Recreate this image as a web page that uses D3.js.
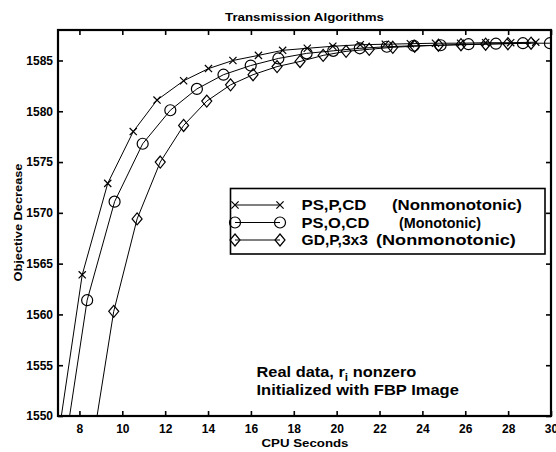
<!DOCTYPE html>
<html><head><meta charset="utf-8">
<script src="https://cdn.jsdelivr.net/npm/d3@7"></script>
<style>
body{margin:0;background:#fff;}
text{font-family:"Liberation Sans",Arial,Helvetica,sans-serif;fill:#000;}
</style></head>
<body><svg id="c" width="556" height="452"></svg>
<script>
// ---- data ----
const xTicks = [8,10,12,14,16,18,20,22,24,26,28,30];
const yTicks = [1550,1555,1560,1565,1570,1575,1580,1585];

const psPcdT = [6.96,8.13,9.32,10.51,11.62,12.86,14.02,15.16,16.35,17.48,18.63,19.82,21.1,22.27,23.44,24.61,25.78,26.95,28.12,29.29];
const psPcdV = [1547.2,1563.9,1572.9,1578.0,1581.1,1583.0,1584.2,1585.0,1585.5,1586.0,1586.2,1586.4,1586.55,1586.6,1586.65,1586.7,1586.7,1586.75,1586.75,1586.8];

const psOcdT = [7.09,8.36,9.64,10.95,12.24,13.48,14.72,15.99,17.28,18.6,19.84,21.08,22.34,23.6,24.85,26.15,27.43,28.69,29.95];
const psOcdV = [1543.7,1561.4,1571.1,1576.8,1580.1,1582.2,1583.6,1584.5,1585.2,1585.7,1585.95,1586.2,1586.35,1586.45,1586.5,1586.6,1586.65,1586.7,1586.7];

const gdPT = [8.52,9.6,10.69,11.77,12.86,13.94,15.05,16.1,17.22,18.29,19.37,20.44,21.52,22.62,23.64,24.75,25.8,26.95,27.99,29.07];
const gdPV = [1546.0,1560.3,1569.4,1575.0,1578.6,1581.0,1582.6,1583.6,1584.4,1584.9,1585.5,1585.9,1586.1,1586.3,1586.4,1586.5,1586.55,1586.6,1586.65,1586.7];

const seriesNames = ["PS,P,CD","PS,O,CD","GD,P,3x3"];
const seriesNotes = ["(Nonmonotonic)","(Monotonic)","(Nonmonotonic)"];
const markerKinds = ["x","o","d"];

// ---- layout ----
const svg = d3.select("#c");
const L=58, R=551, T=30, B=416;
const x = d3.scaleLinear().domain([7,30]).range([L,R]);
const y = d3.scaleLinear().domain([1550,1588]).range([B,T]);

function fit(sel, w){
  const n = sel.node(); const len = n.getComputedTextLength();
  const xx = +sel.attr("data-x"), yy = +sel.attr("data-y");
  sel.attr("x",0).attr("y",0);
  const s = w/len;
  sel.attr("transform",`translate(${xx},${yy}) scale(${s},1)`);
}
function txt(g, str, xx, yy, size, weight, anchor){
  return g.append("text").attr("data-x",xx).attr("data-y",yy).attr("x",xx).attr("y",yy)
    .attr("font-size",size).attr("font-weight",weight||"bold").attr("text-anchor",anchor||"start").text(str);
}

svg.append("defs").append("clipPath").attr("id","clip")
  .append("rect").attr("x",L).attr("y",T).attr("width",R-L).attr("height",B-T);

// title
fit(txt(svg,"Transmission Algorithms",(L+R)/2,21,11,"bold","middle"),159);

// axes
const xa = svg.append("g").attr("transform",`translate(0,${B})`)
  .call(d3.axisBottom(x).tickValues(xTicks).tickSize(-5).tickPadding(8).tickFormat(d3.format("d")));
const xt = svg.append("g").attr("transform",`translate(0,${T})`)
  .call(d3.axisTop(x).tickValues(xTicks).tickSize(-5).tickFormat(""));
const ya = svg.append("g").attr("transform",`translate(${L},0)`)
  .call(d3.axisLeft(y).tickValues(yTicks).tickSize(-5).tickPadding(5).tickFormat(d3.format("d")));
const yr = svg.append("g").attr("transform",`translate(${R},0)`)
  .call(d3.axisRight(y).tickValues(yTicks).tickSize(-5).tickFormat(""));
[xa,xt,ya,yr].forEach(g=>{
  g.select(".domain").remove();
  g.selectAll(".tick line").attr("stroke","#000").attr("stroke-width",1.6);
  g.selectAll(".tick text").attr("font-size",12).attr("font-weight","bold")
    .attr("font-family",'"Liberation Sans",Arial,sans-serif').attr("fill","#000");
});
xa.selectAll(".tick text").attr("dy","0.71em");

// frame
svg.append("rect").attr("x",L).attr("y",T).attr("width",R-L).attr("height",B-T)
  .attr("fill","none").attr("stroke","#000").attr("stroke-width",2.2);

// axis labels
fit(txt(svg,"CPU Seconds",305,446.5,11.5,"bold","middle"),87);
const yl = svg.append("text").attr("font-size",11.5).attr("font-weight","bold").attr("text-anchor","middle")
  .attr("transform","translate(21.5,222.5) rotate(-90)").text("Objective Decrease");
{ const len = yl.node().getComputedTextLength();
  yl.attr("transform",`translate(21.5,222.5) rotate(-90) scale(${118/len},1)`); }

// markers
function marker(g, kind, cx, cy){
  if(kind==="x"){
    const s=3.6;
    g.append("path").attr("d",`M${cx-s},${cy-s}L${cx+s},${cy+s}M${cx-s},${cy+s}L${cx+s},${cy-s}`)
      .attr("stroke","#000").attr("stroke-width",1.2).attr("fill","none");
  } else if(kind==="o"){
    g.append("circle").attr("cx",cx).attr("cy",cy).attr("r",5.5)
      .attr("stroke","#000").attr("stroke-width",1.2).attr("fill","none");
  } else {
    g.append("path").attr("d",`M${cx},${cy-6}L${cx+5},${cy}L${cx},${cy+6}L${cx-5},${cy}Z`)
      .attr("stroke","#000").attr("stroke-width",1.2).attr("fill","none");
  }
}

const data = [[psPcdT,psPcdV],[psOcdT,psOcdV],[gdPT,gdPV]];
const plot = svg.append("g").attr("clip-path","url(#clip)");
const line = d3.line().x(d=>x(d[0])).y(d=>y(d[1]));
data.forEach(([ts,vs],i)=>{
  const pts = ts.map((t,j)=>[t,vs[j]]);
  plot.append("path").datum(pts).attr("d",line).attr("fill","none").attr("stroke","#000").attr("stroke-width",1);
  pts.forEach(p=>marker(plot, markerKinds[i], x(p[0]), y(p[1])));
});

// legend
const lg = svg.append("g");
lg.append("rect").attr("x",230.5).attr("y",188.5).attr("width",314.5).attr("height",65.5)
  .attr("fill","#fff").attr("stroke","#000").attr("stroke-width",1.6);
const rowY = [205,222.5,240];
const nameW = [65,68,66.5];
const noteX = [392,399,376];
const noteW = [130,82,140];
rowY.forEach((ry,i)=>{
  lg.append("line").attr("x1",235).attr("x2",280).attr("y1",ry).attr("y2",ry).attr("stroke","#000").attr("stroke-width",1);
  marker(lg, markerKinds[i], 235, ry);
  marker(lg, markerKinds[i], 280, ry);
  fit(txt(lg, seriesNames[i], 301.5, ry+5, 14, "bold"), nameW[i]);
  fit(txt(lg, seriesNotes[i], noteX[i], ry+5, 14, "bold"), noteW[i]);
});

// annotation
const a1 = svg.append("text").attr("font-size",14).attr("font-weight","bold");
a1.append("tspan").text("Real data, r");
a1.append("tspan").attr("font-size",10).attr("dy",4).text("i");
a1.append("tspan").attr("dy",-4).text(" nonzero");
{ const len=a1.node().getComputedTextLength(); a1.attr("transform",`translate(256.5,377.3) scale(${160/len},1)`); }
fit(txt(svg,"Initialized with FBP Image",256.5,395,14,"bold"),202.5);
</script></body></html>
